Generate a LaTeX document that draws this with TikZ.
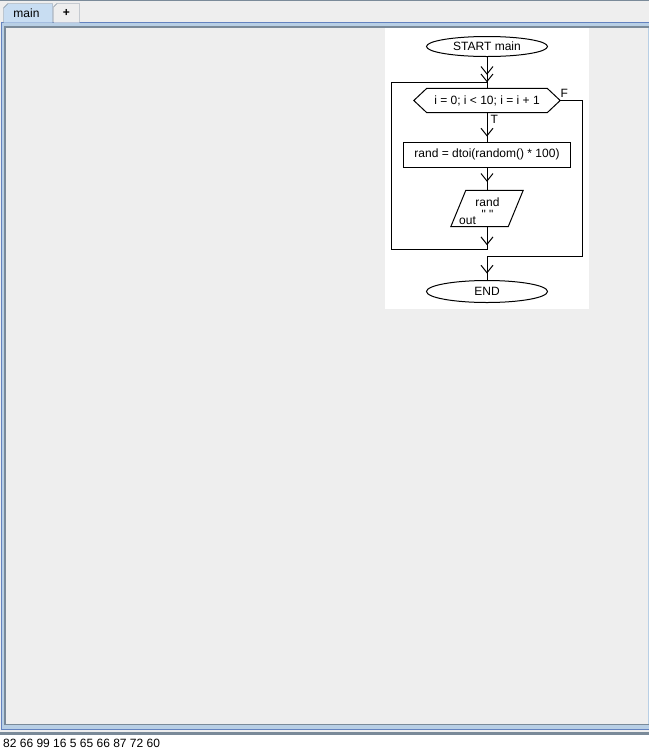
\documentclass[tikz,border=0pt]{standalone}
\usepackage{fontspec}
\setmainfont{Liberation Sans}
\usetikzlibrary{shapes,arrows.meta,positioning,decorations.markings}

\definecolor{panelgray}{HTML}{EEEEEE}
\definecolor{frameblue}{HTML}{6382BF}
\definecolor{framegray}{HTML}{7A8A99}
\definecolor{framelight}{HTML}{B8CFE5}
\definecolor{tabblue}{HTML}{C8DDF2}

\begin{document}
\begin{tikzpicture}[
    x=1pt, y=-1pt,
    >={Straight Barb[length=7.5pt,width=12pt]},
    terminal/.style={ellipse, draw, line width=1pt, minimum width=121pt, minimum height=20pt, inner sep=0pt},
    block/.style={rectangle, draw, line width=1pt, minimum width=167pt, minimum height=25pt, inner sep=0pt},
    shell/.style={inner sep=0pt},
    tag/.style={inner sep=0pt, anchor=base west},
    wire/.style={draw, line width=1pt},
    arrowat/.style={postaction={decorate, decoration={markings, mark=at position #1 with {\arrow{>}}}}}
]

  \tikzset{
    font={\fontsize{12pt}{14pt}\selectfont}
  }
\useasboundingbox (0,0) rectangle (649,756);

% Window
\fill[panelgray] (0,0) rectangle (649,756);
\draw[framegray] (0,0.5) -- (649,0.5);
\fill[framelight] (1,23) rectangle (649,730);
\draw[frameblue] (1.5,730) -- (1.5,22.5) -- (649,22.5);
\draw[frameblue] (1.5,729.5) -- (649,729.5);
\draw[framegray, line width=2pt] (5,725) -- (5,27) -- (649,27);
\draw[framegray] (5,724.5) -- (649,724.5);
\fill[panelgray] (6,28) rectangle (648,724);
\draw[framelight] (648.5,28) -- (648.5,724);
\fill[framegray] (0,732) rectangle (649,735);
\fill[white] (0,735) rectangle (649,756);
\fill[white] (385,28) rectangle (588.5,308.5);

% Tabs
\filldraw[fill=tabblue, draw=framegray] (3.5,22.5) -- (3.5,8) -- (8,3.5) -- (52.5,3.5) -- (52.5,22.5);
\filldraw[fill=panelgray, draw=framegray] (53.5,22.5) -- (53.5,7) -- (57,3.5) -- (79.5,3.5) -- (79.5,22.5);
\node[tag, anchor=base] (maintab) at (26.5,17) {main};
\node[shell, font=\fontsize{12pt}{14pt}\selectfont\bfseries] (plustab) at (66.5,12.5) {+};
\node[tag] (console) at (3,747) {82 66 99 16 5 65 66 87 72 60};

% Nodes
\node[terminal] (start) at (487,46.5) {START main};
\node[shell, minimum width=146pt, minimum height=24pt] (loop) at (487,100.5) {i = 0; i < 10; i = i + 1};
\node[block] (assign) at (487,154.5) {rand = dtoi(random() * 100)};
\node[shell, minimum width=72pt, minimum height=36pt] (output) at (487,208.5) {};
\node[terminal, minimum height=22pt] (stop) at (487,291.5) {END};

\node[tag, anchor=base] (outvar) at (487.5,206) {rand};
\node[tag, anchor=base] (outsep) at (487.5,218.5) {\textquotedbl\ \textquotedbl};
\node[tag] (outkind) at (459,224) {out};
\node[tag] (true) at (490.5,123) {T};
\node[tag] (false) at (560.5,97.5) {F};

\coordinate (loopend) at (487,249.5);
\coordinate (loopback) at (391.5,82.5);
\coordinate (entry) at (487,82.5);
\coordinate (exitright) at (582.5,100.5);
\coordinate (exitjoin) at (487,256);

% Shapes
\draw[wire] (loop.west) -- ([xshift=13pt]loop.north west) -- ([xshift=-13pt]loop.north east) -- (loop.east) -- ([xshift=-13pt]loop.south east) -- ([xshift=13pt]loop.south west) -- cycle;
\draw[wire] ([xshift=15pt]output.north west) -- (output.north east) -- ([xshift=-15pt]output.south east) -- (output.south west) -- cycle;

% Lines
\draw[wire, arrowat=-13.5pt, arrowat=-6pt] (start) -- (loop);
\draw[wire, arrowat=-5pt] (loop) -- (assign);
\draw[wire, arrowat=-8.5pt] (assign) -- (output);
\draw[wire, arrowat=18.5pt] (output.south) -- (loopend) -| (loopback) -- (entry);
\draw[wire, arrowat=-6.5pt] (loop.east) -- (exitright) |- (exitjoin) -- (stop);

\end{tikzpicture}
\end{document}
